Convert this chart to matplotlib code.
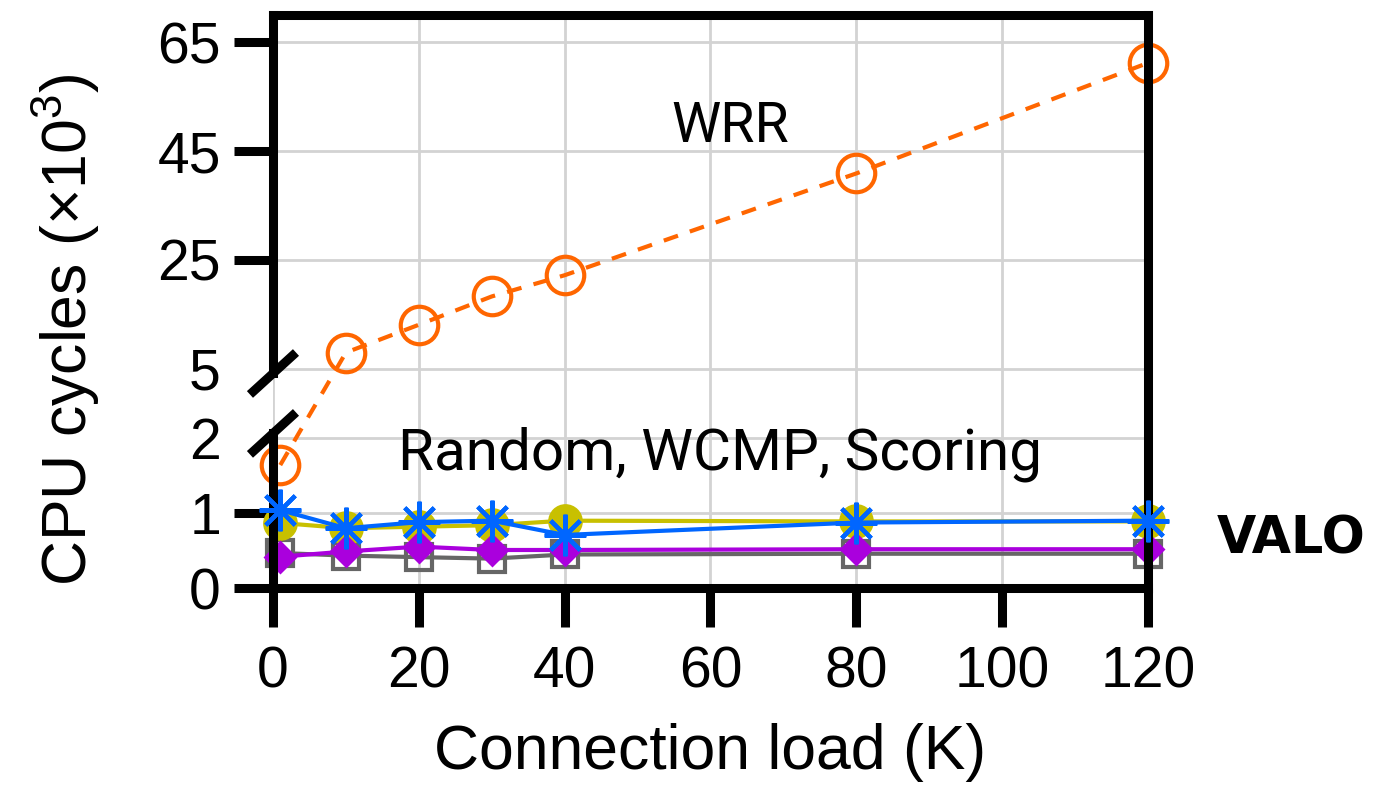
import numpy as np
import matplotlib
matplotlib.use("Agg")
import matplotlib.pyplot as plt

plt.rcParams["font.family"] = ["Liberation Sans", "DejaVu Sans"]
plt.rcParams["mathtext.fontset"] = "custom"
plt.rcParams["mathtext.rm"] = "Liberation Sans"
plt.rcParams["mathtext.it"] = "Liberation Sans:italic"

# Connection load (K) and CPU cycles (x10^3) per scheduler
load = [1, 10, 20, 30, 40, 80, 120]
wrr_cycles = [1.64, 8.0, 13.1, 18.3, 22.2, 40.9, 61.2]
random_cycles = [0.87, 0.80, 0.82, 0.84, 0.90, 0.89, 0.89]
wcmp_cycles = [1.04, 0.80, 0.88, 0.90, 0.71, 0.875, 0.90]
scoring_cycles = [0.42, 0.49, 0.555, 0.51, 0.51, 0.52, 0.52]
valo_cycles = [0.47, 0.435, 0.415, 0.395, 0.45, 0.46, 0.46]

x_ticks = [0, 20, 40, 60, 80, 100, 120]
y_ticks_main = [0, 1, 25, 45, 65]
y_ticks_break = [2, 5]

# Piecewise-linear y scale: 0-2 stretched, 2-5 squeezed (break), 5-70 compressed
_v = [-100.0, 0.0, 2.0, 5.0, 1000.0]
_u = [-7500.0, 0.0, 150.0, 219.0, 219.0 + 995.0 * 5.433]


def fwd(v):
    return np.interp(np.asarray(v, dtype=float), _v, _u)


def inv(u):
    return np.interp(np.asarray(u, dtype=float), _u, _v)


fig = plt.figure(figsize=(13.8, 7.9), dpi=100)
ax = fig.add_axes([0.1978, 0.2553, 0.6341, 0.7257])
ax.set_yscale("function", functions=(fwd, inv))

ax.plot(load, valo_cycles, color="#666666", lw=3, marker="s", ms=18.5,
        mfc="none", mec="#666666", mew=3, clip_on=False, zorder=2.1)
ax.plot(load, random_cycles, color="#C8C000", lw=3, marker="o", ms=25,
        mec="none", clip_on=False, zorder=2.2)
ax.plot(load, scoring_cycles, color="#AA00DD", lw=3, marker="D", ms=17,
        mec="none", clip_on=False, zorder=2.3)
ax.plot(load, wrr_cycles, color="#FF6600", lw=3, dashes=(3.6, 3.0),
        marker="o", ms=27, mfc="none", mec="#FF6600", mew=3,
        clip_on=False, zorder=2.4)
ax.plot(load, wcmp_cycles, color="#0066FF", lw=3, marker=(8, 2, 0), ms=30,
        mew=3, clip_on=False, zorder=2.6)

ax.set_xlim(0, 120)
ax.set_ylim(0, 70)
ax.set_xticks(x_ticks)
ax.set_yticks(y_ticks_main)
ax.set_yticks(y_ticks_break, minor=True)
ax.set_yticklabels([str(t) for t in y_ticks_break], minor=True)
ax.xaxis.set_minor_locator(matplotlib.ticker.NullLocator())

ax.grid(True, which="both", color="#d3d3d3", lw=2)
ax.set_axisbelow(True)

ax.tick_params(axis="both", which="major", direction="out", length=28,
               width=6.5, labelsize=41, color="black")
ax.tick_params(axis="x", which="major", pad=13)
ax.tick_params(axis="y", which="major", pad=9.5)
ax.tick_params(axis="y", which="minor", length=0, labelsize=41, pad=37.5)

for side in ("top", "right", "bottom"):
    ax.spines[side].set_linewidth(6.5)
    ax.spines[side].set_color("black")
ax.spines["left"].set_visible(False)


def yfrac(v):
    return (fwd(v) - fwd(0)) / (fwd(70) - fwd(0))


# Broken left spine with diagonal break marks
upper_cut = float(yfrac(4.8))
lower_cut = float(yfrac(2.2))
spine_kw = dict(transform=ax.transAxes, color="black", lw=6.5,
                clip_on=False, zorder=2.5, solid_capstyle="projecting")
ax.plot([0, 0], [upper_cut, 1], **spine_kw)
ax.plot([0, 0], [0, lower_cut], **spine_kw)
dx, dy = 0.0263, 0.0366
for c in (upper_cut, lower_cut):
    ax.plot([-dx, dx], [c - dy, c + dy], transform=ax.transAxes,
            color="black", lw=6.5, clip_on=False, zorder=2.5,
            solid_capstyle="butt")

ax.set_xlabel("Connection load (K)", fontsize=45, va="center")
ax.xaxis.set_label_coords(0.5, -0.287)
ax.set_ylabel(r"CPU cycles (×$\mathregular{10^{3}}$)", fontsize=45,
              va="center")
ax.yaxis.set_label_coords(-0.236, 0.4505)

ax.text(62.7, 46.65, "WRR", ha="center", va="baseline", fontsize=40,
        family="Roboto")
ax.text(61.3, 1.577, "Random, WCMP, Scoring", ha="center", va="baseline",
        fontsize=42, family="Roboto")
fig.text(1217 / 1380, 1 - 554 / 790, "VALO", ha="left", va="baseline",
         fontsize=36.5, fontweight="bold", family="DejaVu Sans")

fig.savefig("out.png", dpi=100)
